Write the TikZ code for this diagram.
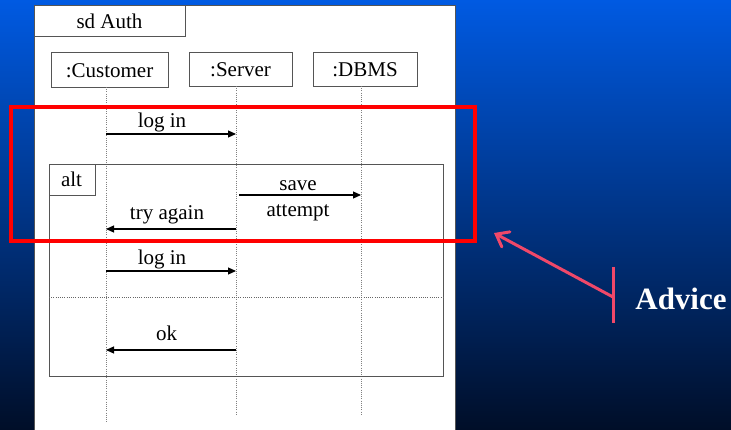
\documentclass[tikz,border=0pt]{standalone}
\usepackage{fontspec}
\setmainfont{Liberation Serif}
\usetikzlibrary{arrows.meta}
\definecolor{bgtop}{RGB}{0,90,226}
\definecolor{bgmid}{RGB}{0,58,152}
\definecolor{bgbot}{RGB}{0,14,40}
\definecolor{advicered}{RGB}{240,72,105}
\definecolor{edgegray}{RGB}{85,85,85}

\begin{document}
\begin{tikzpicture}[x=1pt,y=-1pt,
  txt/.style={font=\fontsize{21}{24}\selectfont, inner sep=0pt, anchor=base, text=black},
  headbox/.style={draw=edgegray, line width=0.9pt, fill=white},
  lifeline/.style={draw=black!50, line width=0.7pt, dash pattern=on 1pt off 1.2pt},
  msg/.style={draw=black, line width=1.1pt, -{Triangle[length=8pt,width=7pt]}},
  frameline/.style={draw=edgegray, line width=0.9pt},
]
% background
\shade[top color=bgtop, middle color=bgmid, bottom color=bgbot] (0pt,0pt) rectangle (731pt,-430pt);
\useasboundingbox (0,0) rectangle (731,430);

% sequence diagram frame
\fill[white] (34,5) rectangle (455,430);
\draw[frameline] (34,430) -- (34,5) -- (455,5) -- (455,430);
\draw[frameline] (34,36) -- (185,36) -- (185,5);
\node[txt] (title) at (109.5,29) {sd Auth};

% lifeline heads
\draw[headbox] (51,52) rectangle (168,87);
\node[txt] (cust) at (109.5,78) {:Customer};
\draw[headbox] (189,52) rectangle (292,86);
\node[txt] (serv) at (240.5,77) {:Server};
\draw[headbox] (313,52) rectangle (417,86);
\node[txt] (dbms) at (365,77) {:DBMS};

% lifelines
\coordinate (custTop) at (106,87);
\coordinate (custEnd) at (106,422);
\coordinate (servTop) at (236,86);
\coordinate (servEnd) at (236,415);
\coordinate (dbmsTop) at (361,86);
\coordinate (dbmsEnd) at (361,415);
\draw[lifeline] (custTop) -- (custEnd);
\draw[lifeline] (servTop) -- (servEnd);
\draw[lifeline] (dbmsTop) -- (dbmsEnd);

% alt fragment
\draw[frameline] (49,164) rectangle (443,376);
\draw[frameline] (49,195) -- (95,195) -- (95,164);
\node[txt] (alt) at (71.5,187) {alt};
\coordinate (sepL) at (49,297);
\coordinate (sepR) at (443,297);
\draw[draw=black!60, line width=0.7pt, dash pattern=on 1pt off 1.2pt] (sepL) -- (sepR);

% messages
\coordinate (m1a) at (106,134);  \coordinate (m1b) at (236,134);
\draw[msg] (m1a) -- (m1b);
\node[txt] (l1) at (162,128) {log in};

\coordinate (m2a) at (239,195);  \coordinate (m2b) at (361,195);
\draw[msg] (m2a) -- (m2b);
\node[txt] (l2a) at (298,191) {save};
\node[txt] (l2b) at (298,217) {attempt};

\coordinate (m3a) at (236,229);  \coordinate (m3b) at (106,229);
\draw[msg] (m3a) -- (m3b);
\node[txt] (l3) at (167,220) {try again};

\coordinate (m4a) at (106,271);  \coordinate (m4b) at (236,271);
\draw[msg] (m4a) -- (m4b);
\node[txt] (l4) at (162,265) {log in};

\coordinate (m5a) at (236,350);  \coordinate (m5b) at (106,350);
\draw[msg] (m5a) -- (m5b);
\node[txt] (l5) at (166.5,341) {ok};

% highlight box
\draw[red, line width=4pt] (11,107) rectangle (475,241);

% advice marker
\coordinate (tickTop) at (613,267);
\coordinate (tickBot) at (613,323);
\coordinate (tickMid) at (613,297);
\coordinate (tipPt) at (494,233);
\draw[advicered, line width=3pt] (tickTop) -- (tickBot);
\draw[advicered, line width=3pt, -{Straight Barb[length=11pt,width=17pt,line cap=round]}] (tickMid) -- (tipPt);
\node[font=\fontsize{31}{36}\selectfont\bfseries, text=white, inner sep=0pt, anchor=base] (advice) at (681,310) {Advice};
\end{tikzpicture}
\end{document}
